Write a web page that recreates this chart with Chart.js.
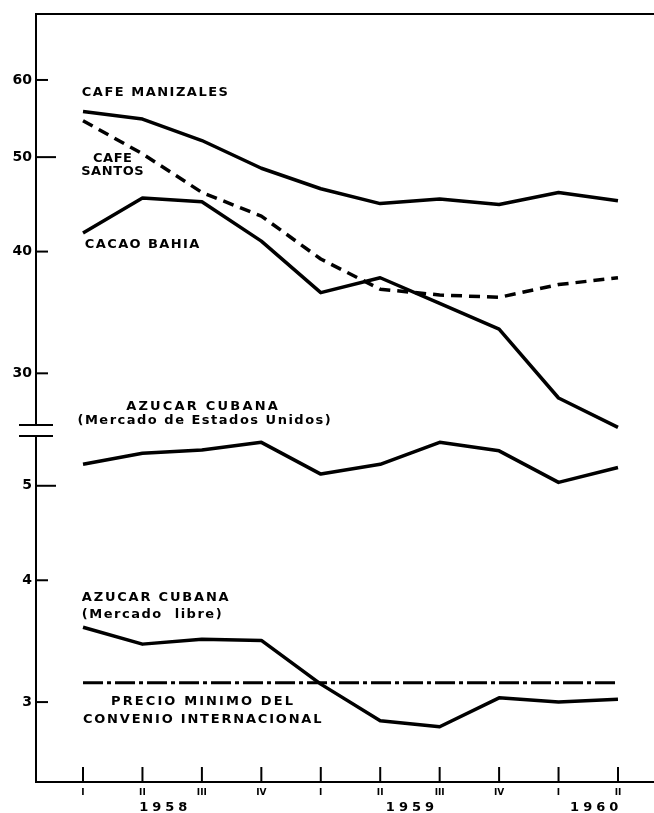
<!DOCTYPE html>
<html>
<head>
<meta charset="utf-8">
<script src="https://cdn.jsdelivr.net/npm/chart.js@4"></script>
<style>
  body { margin: 0; background: #fff; }
  canvas { display: block; }
</style>
</head>
<body>
<canvas id="grafico" width="654" height="813"></canvas>
<script>
// Trimestres 1958 - 1960 (II)
const trimestres = ['I', 'II', 'III', 'IV', 'I', 'II', 'III', 'IV', 'I', 'II'];
const anios = ['1958', '1959', '1960'];

// Parte superior (escala logaritmica)
const cafeManizales = [55.7, 54.7, 52.0, 48.7, 46.4, 44.8, 45.3, 44.7, 46.0, 45.1];
const cafeSantos    = [54.5, 50.4, 46.0, 43.5, 39.3, 36.6, 36.1, 35.9, 37.0, 37.6];
const cacaoBahia    = [41.8, 45.4, 45.0, 41.0, 36.3, 37.6, 35.4, 33.3, 28.3, 26.4];

// Parte inferior (escala logaritmica)
const azucarEEUU   = [5.26, 5.40, 5.44, 5.54, 5.14, 5.26, 5.54, 5.43, 5.04, 5.22];
const azucarLibre  = [3.58, 3.44, 3.48, 3.47, 3.13, 2.87, 2.83, 3.03, 3.00, 3.02];
const precioMinimo = [3.14, 3.14, 3.14, 3.14, 3.14, 3.14, 3.14, 3.14, 3.14, 3.14];

const ticksSuperior = [30, 40, 50, 60];
const ticksInferior = [3, 4, 5];

const FUENTE = '"DejaVu Sans", sans-serif';

function serie(valores, eje, dash, ancho) {
  return {
    data: valores.map((v, i) => ({ x: i, y: v })),
    yAxisID: eje,
    borderColor: '#000',
    borderWidth: ancho || 3.5,
    borderDash: dash || [],
    borderJoinStyle: 'round',
    pointRadius: 0,
    tension: 0,
    fill: false
  };
}

// Textos dentro del grafico (x en trimestres, y en valor del eje)
const textos = [
  { t: 'CAFE MANIZALES', x: -0.02, y: 58.2, eje: 'ySup', al: 'left', esp: 1.5 },
  { t: 'CAFE', x: 0.5, y: 49.8, eje: 'ySup', al: 'center', esp: 0.5 },
  { t: 'SANTOS', x: 0.5, y: 48.3, eje: 'ySup', al: 'center', esp: 0.6 },
  { t: 'CACAO BAHIA', x: 0.03, y: 40.7, eje: 'ySup', al: 'left', esp: 1.4 },
  { t: 'AZUCAR CUBANA', x: 2.02, y: 27.7, eje: 'ySup', al: 'center', esp: 2.2 },
  { t: '(Mercado de Estados Unidos)', x: 2.05, y: 26.8, eje: 'ySup', al: 'center', esp: 1.5 },
  { t: 'AZUCAR CUBANA', x: -0.02, y: 3.84, eje: 'yInf', al: 'left', esp: 1.8 },
  { t: '(Mercado  libre)', x: -0.02, y: 3.69, eje: 'yInf', al: 'left', esp: 1.5 },
  { t: 'PRECIO MINIMO DEL', x: 2.02, y: 3.0, eje: 'yInf', al: 'center', esp: 2.1 },
  { t: 'CONVENIO INTERNACIONAL', x: 2.02, y: 2.88, eje: 'yInf', al: 'center', esp: 1.8 }
];
const posAnios = [1.35, 5.5, 8.6];

function linea(ctx, x1, y1, x2, y2) {
  ctx.beginPath();
  ctx.moveTo(x1, y1);
  ctx.lineTo(x2, y2);
  ctx.stroke();
}

const marcas = {
  id: 'marcas',
  afterDraw(chart) {
    const { ctx, chartArea: a, scales } = chart;
    const x = scales.x;
    ctx.save();
    ctx.strokeStyle = '#000';
    ctx.lineWidth = 2;
    // borde superior
    linea(ctx, a.left, a.top, a.right, a.top);
    // marcas del eje Y hacia adentro
    [[scales.ySup, 50], [scales.yInf, 5]].forEach(([esc, larga]) => {
      esc.ticks.forEach(t => {
        const py = esc.getPixelForValue(t.value);
        linea(ctx, a.left, py, a.left + (t.value === larga ? 20 : 12), py);
      });
    });
    // marcas del eje X hacia arriba
    x.ticks.forEach(t => {
      const px = x.getPixelForValue(t.value);
      linea(ctx, px, a.bottom, px, a.bottom - 15);
    });
    // corte del eje
    const yc = scales.ySup.bottom;
    ctx.fillStyle = '#fff';
    ctx.fillRect(a.left - 3, yc - 5, 6, 11);
    linea(ctx, a.left - 17, yc - 5, a.left + 17, yc - 5);
    linea(ctx, a.left - 17, yc + 6, a.left + 17, yc + 6);

    // textos
    ctx.fillStyle = '#000';
    ctx.textBaseline = 'middle';
    ctx.font = 'bold 13px ' + FUENTE;
    textos.forEach(e => {
      ctx.letterSpacing = e.esp + 'px';
      ctx.textAlign = e.al;
      ctx.fillText(e.t, x.getPixelForValue(e.x), scales[e.eje].getPixelForValue(e.y));
    });
    // años
    ctx.letterSpacing = '4px';
    ctx.textAlign = 'center';
    ctx.font = 'bold 13px ' + FUENTE;
    anios.forEach((an, i) => {
      ctx.fillText(an, x.getPixelForValue(posAnios[i]) + 2, a.bottom + 26);
    });
    ctx.restore();
  }
};

new Chart(document.getElementById('grafico'), {
  type: 'line',
  data: {
    datasets: [
      serie(cafeManizales, 'ySup'),
      serie(cafeSantos, 'ySup', [11, 7]),
      serie(cacaoBahia, 'ySup'),
      serie(azucarEEUU, 'yInf'),
      serie(azucarLibre, 'yInf'),
      serie(precioMinimo, 'yInf', [20, 4, 4, 4], 3)
    ]
  },
  options: {
    responsive: false,
    animation: false,
    layout: { padding: { top: 14, right: 0, left: 0, bottom: 0 } },
    plugins: { legend: { display: false }, tooltip: { enabled: false } },
    scales: {
      x: {
        type: 'linear',
        min: -0.791,
        max: 9.606,
        grid: { drawOnChartArea: false, drawTicks: false },
        border: { color: '#000', width: 2 },
        ticks: {
          stepSize: 1,
          includeBounds: false,
          autoSkip: false,
          maxRotation: 0,
          padding: 5,
          color: '#000',
          font: { family: FUENTE, size: 9, weight: 'bold' },
          callback: v => trimestres[v] || ''
        },
        afterFit: s => { s.height = 31; }
      },
      yInf: {
        type: 'logarithmic',
        position: 'left',
        stack: 'precios',
        stackWeight: 352,
        min: 2.484,
        max: 5.704,
        grid: { drawOnChartArea: false, drawTicks: false },
        border: { color: '#000', width: 2 },
        ticks: {
          padding: 4,
          color: '#000',
          font: { family: FUENTE, size: 14, weight: 'bold' },
          callback: v => String(v)
        },
        afterBuildTicks: s => { s.ticks = ticksInferior.map(v => ({ value: v })); },
        afterFit: s => { s.width = 36; }
      },
      ySup: {
        type: 'logarithmic',
        position: 'left',
        stack: 'precios',
        stackWeight: 416,
        min: 26.24,
        max: 70.12,
        grid: { drawOnChartArea: false, drawTicks: false },
        border: { color: '#000', width: 2 },
        ticks: {
          padding: 4,
          color: '#000',
          font: { family: FUENTE, size: 14, weight: 'bold' },
          callback: v => String(v)
        },
        afterBuildTicks: s => { s.ticks = ticksSuperior.map(v => ({ value: v })); },
        afterFit: s => { s.width = 36; }
      }
    }
  },
  plugins: [marcas]
});
</script>
</body>
</html>
